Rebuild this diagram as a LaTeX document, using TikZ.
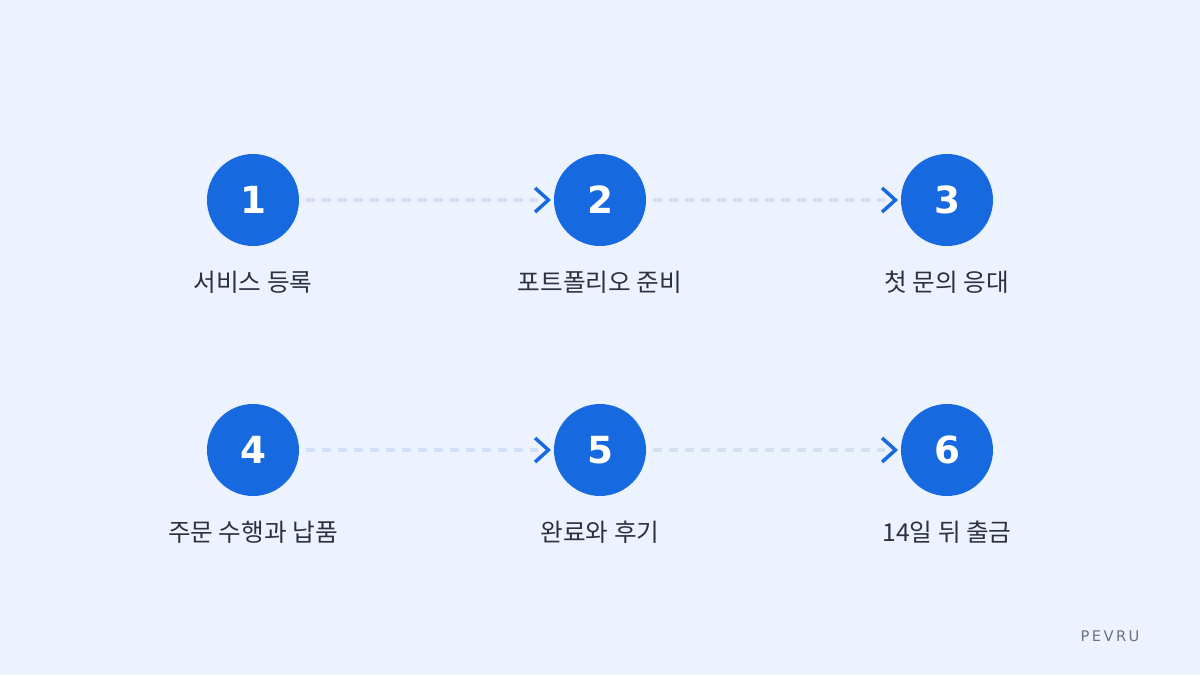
\documentclass[tikz,border=0pt]{standalone}
\usepackage{fontspec}
\setmainfont{DejaVu Sans}
\newfontfamily\kr{Noto Sans CJK KR}
\definecolor{bg}{HTML}{EDF3FE}
\definecolor{blu}{HTML}{1769E0}
\definecolor{dashc}{HTML}{D3DFF3}
\definecolor{txt}{HTML}{2A3140}
\definecolor{gry}{HTML}{6B7280}
\begin{document}
\begin{tikzpicture}[x=0.75pt,y=-0.75pt,
  stepc/.style={circle,fill=blu,minimum size=69pt,inner sep=0pt,text=white,font=\fontsize{28}{30}\selectfont\bfseries},
  lab/.style={text=txt,font=\kr\fontsize{18.5}{20}\selectfont},
  conn/.style={draw=dashc,line width=3pt,dash pattern=on 7pt off 5pt},
  chev/.style={draw=blu,line width=2.6pt}]
\fill[bg] (0,0) rectangle (1200,675);
\useasboundingbox (0,0) rectangle (1200,675);
\foreach \n/\x/\y/\t in {1/253/200/서비스 등록,2/600/200/포트폴리오 준비,3/947/200/첫 문의 응대,4/253/450/주문 수행과 납품,5/600/450/완료와 후기,6/947/450/14일 뒤 출금}{
  \node[stepc] (s\n) at (\x,\y) {\n};
  \node[lab] (l\n) at (\x,\y+82) {\t};
}
\foreach \a/\b in {1/2,2/3,4/5,5/6}{
  \coordinate (e\b) at ([xshift=-4pt]s\b.west);
  \draw[conn] ([xshift=5pt]s\a.east) -- ([xshift=-12pt]s\b.west);
  \draw[chev] ([xshift=-14pt,yshift=9pt]s\b.west) -- (e\b) -- ([xshift=-14pt,yshift=-9pt]s\b.west);
}
\node[text=gry,font=\fontsize{11}{12}\selectfont] (brand) at (1110,636) {P\,E\,V\,R\,U};
\end{tikzpicture}
\end{document}
